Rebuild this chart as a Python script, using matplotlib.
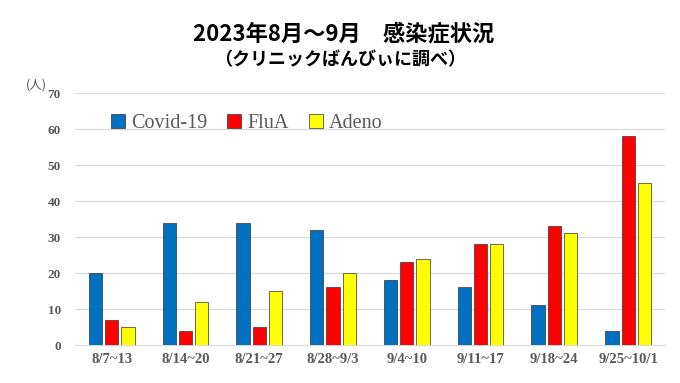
import numpy as np
import matplotlib
matplotlib.use("Agg")
import matplotlib.pyplot as plt

weeks = ["8/7~13", "8/14~20", "8/21~27", "8/28~9/3", "9/4~10", "9/11~17", "9/18~24", "9/25~10/1"]
covid = [20, 34, 34, 32, 18, 16, 11, 4]
flua = [7, 4, 5, 16, 23, 28, 33, 58]
adeno = [5, 12, 15, 20, 24, 28, 31, 45]
series = [("Covid-19", covid, "#0070C0"), ("FluA", flua, "#FF0000"), ("Adeno", adeno, "#FFFF00")]

JP = ["Noto Sans CJK JP", "DejaVu Sans"]
SERIF = "Liberation Serif"
GRAY = "#595959"

fig = plt.figure(figsize=(6.8, 3.83), dpi=100)
ax = fig.add_axes([0.110, 0.099, 0.868, 0.658])

x = np.arange(len(weeks))
w = 0.18
for i, (name, vals, col) in enumerate(series):
    ax.bar(x + (i - 1) * 0.22, vals, w, color=col, edgecolor="#333333", linewidth=0.5, label=name, zorder=3)

ax.set_xlim(-0.5, len(weeks) - 0.5)
ax.set_ylim(0, 70)
ax.set_yticks(range(0, 71, 10))
ax.grid(axis="y", color="#d9d9d9", linewidth=0.8, zorder=0)
for s in ax.spines.values():
    s.set_visible(False)
ax.spines["bottom"].set_visible(True)
ax.spines["bottom"].set_color("#d9d9d9")
ax.tick_params(length=0)
ax.set_xticks(x)
ax.set_xticklabels(weeks, fontfamily=SERIF, fontweight="bold", fontsize=10.5, color=GRAY)
for lab in ax.get_yticklabels():
    lab.set_fontfamily(SERIF)
    lab.set_fontweight("bold")
    lab.set_fontsize(9.5)
    lab.set_color(GRAY)
ax.tick_params(axis="x", pad=6)
ax.tick_params(axis="y", pad=10)

ax.legend(loc="upper left", bbox_to_anchor=(0.03, 0.99), ncol=3, frameon=False,
          prop={"family": SERIF, "size": 14.5}, labelcolor=GRAY,
          handlelength=0.7, handleheight=0.7, handletextpad=0.3, columnspacing=1.0)

fig.text(0.505, 0.912, "2023年8月～9月　感染症状況", ha="center", va="center",
         family=JP, fontweight="bold", fontsize=16)
fig.text(0.5, 0.843, "（クリニックばんびぃに調べ）", ha="center", va="center",
         family=JP, fontweight="bold", fontsize=13)
fig.text(0.054, 0.778, "(人)", ha="center", va="center", family=JP, fontsize=9, color=GRAY)

fig.savefig("out.png", dpi=100)
